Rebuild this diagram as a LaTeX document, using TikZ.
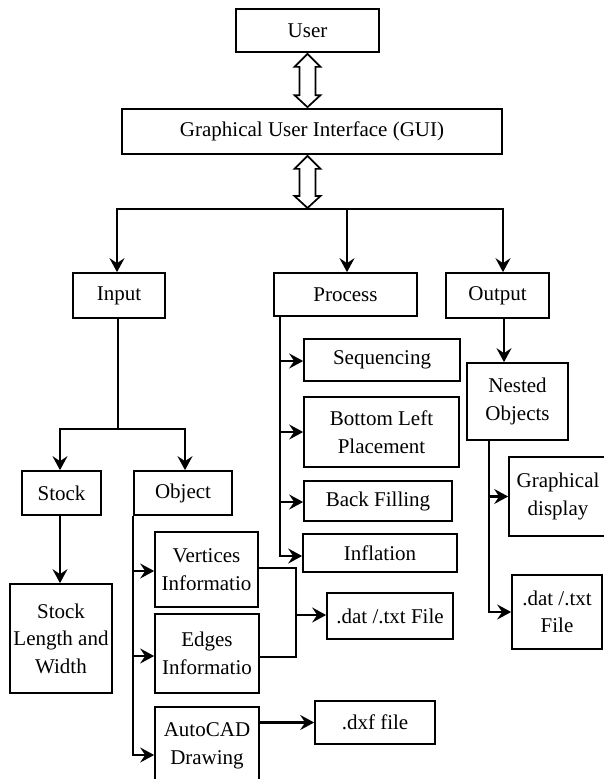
\documentclass[tikz,border=0pt]{standalone}
\usepackage{fontspec}
\setmainfont{Liberation Serif}
\usetikzlibrary{arrows.meta,calc}
\newcommand\hollowarr[2]{%
  \path (#1) ++(0,1) coordinate (ht) (#2) ++(0,-1) coordinate (hb);
  \draw[hollow] (ht) -- ++(13,13) -- ++(-5,0) -- ($(hb)+(8,-12)$) -- ++(5,0) -- (hb)
     -- ++(-13,-12) -- ++(5,0) -- ($(ht)+(-8,13)$) -- ++(-5,0) -- cycle;}
\begin{document}
\begin{tikzpicture}[x=1pt,y=-1pt,
  box/.style={draw, line width=1.7pt, inner sep=0pt, align=center,
    font=\fontsize{21}{27.5}\selectfont},
  conn/.style={line width=2.2pt},
  arr/.style={conn, -{Stealth[length=14pt,width=15pt,inset=5pt]}},
  hollow/.style={draw, line width=1.7pt, fill=white, line join=miter}]
\useasboundingbox[fill=white] (0,0) rectangle (604,779);

\node[box, minimum width=143pt, minimum height=43pt] (user) at (307.5,30.5) {User};
\node[box, minimum width=380pt, minimum height=45pt] (gui) at (312,131.5) {Graphical User Interface (GUI)};
\node[box, minimum width=92pt, minimum height=45pt] (input) at (119,295.5) {Input};
\node[box, minimum width=143pt, minimum height=43pt] (process) at (345.5,294.5) {Process};
\node[box, minimum width=103pt, minimum height=45pt] (output) at (497.5,295.5) {Output};
\node[box, minimum width=79pt, minimum height=44pt] (stock) at (61.5,493) {Stock};
\node[box, minimum width=98pt, minimum height=44pt] (object) at (183,493) {Object};
\node[box, minimum width=102pt, minimum height=109pt] (stocklw) at (61,638.5) {Stock\\Length and\\Width};
\node[box, minimum width=103pt, minimum height=75pt] (vert) at (206.5,569.5) {Vertices\\Informatio};
\node[box, minimum width=104pt, minimum height=79pt] (edges) at (207,653.5) {Edges\\Informatio};
\node[box, minimum width=104pt, minimum height=78pt] (autocad) at (207,746) {AutoCAD\\Drawing};
\node[box, minimum width=126pt, minimum height=46pt] (datfile) at (390,616) {.dat /.txt File};
\node[box, minimum width=120pt, minimum height=43pt] (dxf) at (375,722.5) {.dxf file};
\node[box, minimum width=156pt, minimum height=42pt] (seq) at (382,360) {Sequencing};
\node[box, minimum width=155pt, minimum height=70pt] (blp) at (381.5,432) {Bottom Left\\Placement};
\node[box, minimum width=148pt, minimum height=40pt] (back) at (378,501) {Back Filling};
\node[box, minimum width=154pt, minimum height=38pt] (infl) at (380,553) {Inflation};
\node[box, minimum width=101pt, minimum height=77pt] (nested) at (517.5,401.5) {Nested\\Objects};
\node[box, minimum width=98pt, minimum height=79pt] (graph) at (558,496.5) {Graphical\\display};
\node[box, minimum width=90pt, minimum height=74pt] (dat2) at (557,612) {.dat /.txt\\File};

% hollow double arrows
\hollowarr{user.south}{user.south |- gui.north}
\coordinate (bus) at (307.5,209);
\hollowarr{gui.south -| user.south}{bus}

% top bus
\draw[arr] (bus) -| ([xshift=-2]input.north);
\draw[arr] (bus) -| ([xshift=1.5]process.north);
\draw[arr] (bus) -| ([xshift=5.5]output.north);

% input branch
\draw[conn] ([xshift=-1]input.south) -- ++(0,110) coordinate (ib);
\draw[arr] (ib) -| ([xshift=-1.5]stock.north);
\draw[arr] (ib) -| ([xshift=2]object.north);
\draw[arr] ([xshift=-1.5]stock.south) -- ([xshift=-1.5]stock.south |- stocklw.north);

% object branch
\draw[arr] (object.south west) |- ([yshift=-1.5]vert.west);
\draw[arr] (object.south west) |- ([yshift=-2.5]edges.west);
\draw[arr] (object.south west) |- ([yshift=-9]autocad.west);
\coordinate (j) at (296,615);
\draw[conn] ([yshift=1.5]vert.east) -| (j);
\draw[conn] ([yshift=-3.5]edges.east) -| (j);
\draw[arr] (j) -- (j -| datfile.west);
\draw[arr] (autocad.east |- dxf.west) -- (dxf.west);

% process branch
\coordinate (pt) at ([xshift=7]process.south west);
\draw[arr] (pt) |- ([yshift=-1]seq.west);
\draw[arr] (pt) |- (blp.west);
\draw[arr] (pt) |- ([yshift=-1]back.west);
\draw[arr] (pt) |- ([yshift=-3]infl.west);

% output branch
\draw[arr] ([xshift=6.5]output.south) -- ([xshift=6.5]output.south |- nested.north);
\coordinate (nt) at ([xshift=23]nested.south west);
\draw[arr] (nt) |- (graph.west);
\draw[arr] (nt) |- (dat2.west);
\end{tikzpicture}
\end{document}
